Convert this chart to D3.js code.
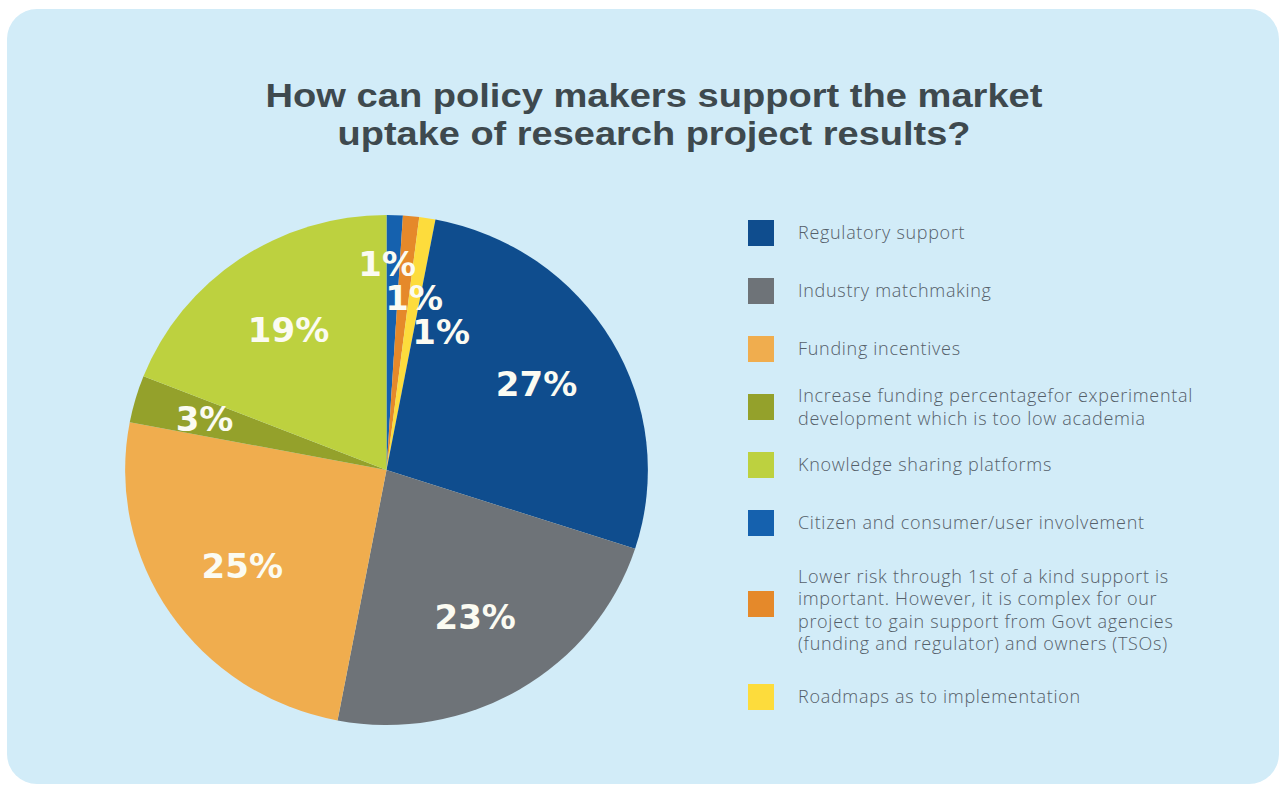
<!DOCTYPE html>
<html>
<head>
<meta charset="utf-8">
<script src="https://cdn.jsdelivr.net/npm/d3@7"></script>
<style>
  html, body { margin: 0; padding: 0; background: #ffffff; }
  svg { display: block; }
</style>
</head>
<body>
<svg id="chart" width="1285" height="787"></svg>
<script>
// Survey answers, in legend order
const categories = [
  "Regulatory support",
  "Industry matchmaking",
  "Funding incentives",
  "Increase funding percentagefor experimental\ndevelopment which is too low academia",
  "Knowledge sharing platforms",
  "Citizen and consumer/user involvement",
  "Lower risk through 1st of a kind support is\nimportant. However, it is complex for our\nproject to gain support from Govt agencies\n(funding and regulator) and owners (TSOs)",
  "Roadmaps as to implementation"
];
const shares = [27, 23, 25, 3, 19, 1, 1, 1];
const colors = ["#0f4d8e", "#6e7378", "#f0ad4e", "#94a12b", "#bdd13f", "#1561ae", "#e5892a", "#fddc3c"];
// Clockwise order of the slices, starting at twelve o'clock
const pieOrder = [5, 6, 7, 0, 1, 2, 3, 4];
const titleLines = [
  "How can policy makers support the market",
  "uptake of research project results?"
];

const W = 1285, H = 787;
const svg = d3.select("#chart");

// Panel background
svg.append("rect")
  .attr("x", 7).attr("y", 9)
  .attr("width", W - 13).attr("height", H - 12)
  .attr("rx", 30).attr("ry", 30)
  .attr("fill", "#d2ecf8");

// Title
const titleWidths = [777, 633];
const title = svg.append("g");
titleLines.forEach((t, i) => {
  title.append("text")
    .attr("x", 654)
    .attr("y", 107 + i * 38)
    .attr("text-anchor", "middle")
    .attr("font-family", "'Liberation Sans', Arial, sans-serif")
    .attr("font-weight", 700)
    .attr("font-size", 34)
    .attr("fill", "#3e494e")
    .attr("textLength", titleWidths[i])
    .attr("lengthAdjust", "spacingAndGlyphs")
    .text(t);
});

// Pie
const cx = 386.5, cy = 470, R = 255, sx = 1.025;
const rows = pieOrder.map(i => ({ idx: i, value: shares[i] }));
const pie = d3.pie().sort(null).value(d => d.value);
const arcs = pie(rows);
const arc = d3.arc().innerRadius(0).outerRadius(R);

const pieG = svg.append("g")
  .attr("transform", `translate(${cx},${cy}) scale(${sx},1)`);
pieG.selectAll("path")
  .data(arcs)
  .join("path")
  .attr("d", arc)
  .attr("fill", d => colors[d.data.idx]);

// Value labels: centroids for the large slices, a diagonal stack for the tiny ones
const labelPos = [];
let prev = null;
arcs.forEach(d => {
  const small = d.data.value < 2;
  const big = d.data.value >= 5;
  const rL = small ? R * 0.81 : (big ? R * 0.667 : R * 0.725);
  const c = d3.arc().innerRadius(rL).outerRadius(rL).centroid(d);
  let p = { x: cx + c[0] * sx, y: cy + c[1] };
  if (small && prev && prev.small) {
    p = { x: prev.x + 27, y: prev.y + 34 };
  } else if (small) {
    p.x -= 6;
  }
  p.small = small;
  labelPos.push(p);
  prev = p;
});

svg.append("g").selectAll("text")
  .data(arcs)
  .join("text")
  .attr("x", (d, i) => labelPos[i].x)
  .attr("y", (d, i) => labelPos[i].y)
  .attr("dy", "0.36em")
  .attr("text-anchor", "middle")
  .attr("font-family", "'DejaVu Sans', sans-serif")
  .attr("font-weight", 700)
  .attr("font-size", 34)
  .attr("fill", "#fbfbf2")
  .text(d => d.data.value + "%");

// Legend
const legend = svg.append("g");
const lineH = 22.5;
let yc = 233;
categories.forEach((label, i) => {
  const lines = label.split("\n");
  const extra = Math.max(lines.length - 2, 0) * 29;
  if (i > 0) yc += extra / 2;
  const g = legend.append("g");
  g.append("rect")
    .attr("x", 748).attr("y", yc - 13 - (lines.length > 2 ? 6 : 0))
    .attr("width", 26).attr("height", 26)
    .attr("fill", colors[i]);
  const top = yc - (lines.length - 1) * lineH / 2;
  lines.forEach((ln, j) => {
    g.append("text")
      .attr("x", 798)
      .attr("y", top + j * lineH)
      .attr("dy", "0.35em")
      .attr("font-family", "'Open Sans', sans-serif")
      .attr("font-weight", 300)
      .attr("font-size", 18)
      .attr("letter-spacing", 0.7)
      .attr("fill", "#55606a")
      .text(ln);
  });
  yc += 58 + extra / 2;
});
</script>
</body>
</html>
